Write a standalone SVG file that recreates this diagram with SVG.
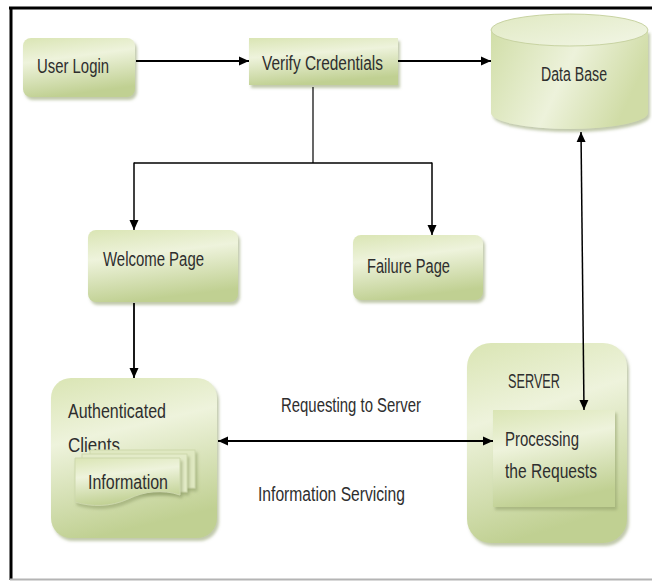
<svg xmlns="http://www.w3.org/2000/svg" width="652" height="582" viewBox="0 0 652 582">
  <defs>
    <style>
      .lbl { font-family: "Liberation Sans", Arial, sans-serif; font-size: 20px; fill: #2e2e2e; }
      .box { fill: url(#greenFill); filter: url(#shadow); }
      .line { fill: none; stroke: #000000; }
    </style>
    <linearGradient id="greenFill" x1="0" y1="0" x2="0.25" y2="1">
      <stop offset="0" stop-color="#dae5b4"/>
      <stop offset="0.4" stop-color="#eef3dc"/>
      <stop offset="1" stop-color="#c0d092"/>
    </linearGradient>
    <linearGradient id="cylBody" x1="0" y1="0" x2="1" y2="0.3">
      <stop offset="0" stop-color="#d1dea8"/>
      <stop offset="0.55" stop-color="#edf2db"/>
      <stop offset="1" stop-color="#d0dca6"/>
    </linearGradient>
    <linearGradient id="cylTop" x1="0" y1="0" x2="1" y2="1">
      <stop offset="0" stop-color="#e0e9c2"/>
      <stop offset="1" stop-color="#f2f6e6"/>
    </linearGradient>
    <filter id="shadow" x="-10%" y="-10%" width="125%" height="130%">
      <feDropShadow dx="2" dy="3" stdDeviation="1.5" flood-color="#8e9c66" flood-opacity="0.55"/>
    </filter>
    <marker id="arrow" viewBox="0 0 10 10" refX="10" refY="5" markerWidth="10" markerHeight="10" markerUnits="userSpaceOnUse" orient="auto-start-reverse">
      <path d="M0,0.5 L10,5 L0,9.5 Z" fill="#000000"/>
    </marker>
  </defs>

  <!-- frame -->
  <g id="frame">
    <line x1="9" y1="8" x2="652" y2="8" stroke="#000000" stroke-width="3"/>
    <line x1="11" y1="7" x2="11" y2="580" stroke="#000000" stroke-width="3"/>
    <line x1="10" y1="579.5" x2="652" y2="579.5" stroke="#b4b4b4" stroke-width="2"/>
  </g>

  <g id="user-login">
    <rect class="box" x="23" y="38" width="112" height="59" rx="8"/>
    <text class="lbl" x="37" y="73" textLength="72" lengthAdjust="spacingAndGlyphs">User Login</text>
  </g>

  <g id="verify-credentials">
    <rect class="box" x="249" y="38" width="149" height="47"/>
    <text class="lbl" x="262" y="70" textLength="121" lengthAdjust="spacingAndGlyphs">Verify Credentials</text>
  </g>

  <g id="data-base">
    <path d="M491,30 V113 A78.5,16 0 0 0 648,113 V30 Z" fill="url(#cylBody)" filter="url(#shadow)"/>
    <ellipse cx="569.5" cy="30" rx="78.5" ry="16" fill="url(#cylTop)" stroke="#c8d3a2" stroke-width="1"/>
    <text class="lbl" x="541" y="81" textLength="66" lengthAdjust="spacingAndGlyphs">Data Base</text>
  </g>

  <g id="welcome-page">
    <rect class="box" x="88" y="230" width="150" height="72" rx="8"/>
    <text class="lbl" x="103" y="266" textLength="101" lengthAdjust="spacingAndGlyphs">Welcome Page</text>
  </g>

  <g id="failure-page">
    <rect class="box" x="353" y="235" width="130" height="65" rx="8"/>
    <text class="lbl" x="367" y="273" textLength="83" lengthAdjust="spacingAndGlyphs">Failure Page</text>
  </g>

  <g id="authenticated-clients">
    <rect class="box" x="51" y="378" width="166" height="160" rx="20"/>
    <text class="lbl" x="68" y="418" textLength="98" lengthAdjust="spacingAndGlyphs">Authenticated</text>
    <text class="lbl" x="68" y="452" textLength="52" lengthAdjust="spacingAndGlyphs">Clients</text>
    <g id="information">
      <rect x="90" y="450" width="105" height="38" fill="#dfe8c1" stroke="#cdd8ac" stroke-width="1" filter="url(#shadow)"/>
      <rect x="82" y="454" width="105" height="38" fill="#e3ebc8" stroke="#cdd8ac" stroke-width="1" filter="url(#shadow)"/>
      <path d="M75,458 H180 V495 C162,489 145,491 128,499 C110,507 92,507 75,502 Z" fill="url(#greenFill)" stroke="#cdd8ac" stroke-width="1" filter="url(#shadow)"/>
      <text class="lbl" x="88" y="489" textLength="80" lengthAdjust="spacingAndGlyphs">Information</text>
    </g>
  </g>

  <g id="server">
    <rect class="box" x="467" y="343" width="160" height="200" rx="24"/>
    <text class="lbl" x="508" y="388" textLength="52" lengthAdjust="spacingAndGlyphs">SERVER</text>
    <g id="processing">
      <rect class="box" x="493" y="410" width="122" height="97"/>
      <text class="lbl" x="505" y="446" textLength="74" lengthAdjust="spacingAndGlyphs">Processing</text>
      <text class="lbl" x="505" y="478" textLength="92" lengthAdjust="spacingAndGlyphs">the Requests</text>
    </g>
  </g>

  <g id="edge-labels">
    <text class="lbl" x="281" y="412" textLength="140" lengthAdjust="spacingAndGlyphs">Requesting to Server</text>
    <text class="lbl" x="258" y="501" textLength="147" lengthAdjust="spacingAndGlyphs">Information Servicing</text>
  </g>

  <!-- connectors, drawn over the boxes they pass through -->
  <g id="connectors">
    <path class="line" d="M136,61 H249" stroke-width="2" marker-end="url(#arrow)"/>
    <path class="line" d="M398,61 H491" stroke-width="2" marker-end="url(#arrow)"/>
    <path class="line" d="M313,87 V163" stroke-width="1.2"/>
    <path class="line" d="M134,163 H432" stroke-width="1.5"/>
    <path class="line" d="M134,162.5 V230" stroke-width="1.5" marker-end="url(#arrow)"/>
    <path class="line" d="M432,162.5 V235" stroke-width="1.5" marker-end="url(#arrow)"/>
    <path class="line" d="M134,303 V378" stroke-width="1.8" marker-end="url(#arrow)"/>
    <path class="line" d="M581,132 L584,410" stroke-width="1.5" marker-start="url(#arrow)" marker-end="url(#arrow)"/>
    <path class="line" d="M218,441 H493" stroke-width="2" marker-start="url(#arrow)" marker-end="url(#arrow)"/>
  </g>
</svg>
